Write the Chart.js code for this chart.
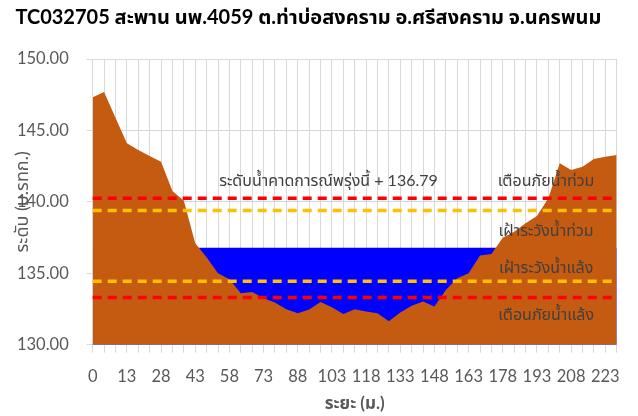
<!DOCTYPE html>
<html>
<head>
<meta charset="utf-8">
<script src="https://cdn.jsdelivr.net/npm/chart.js@4/dist/chart.umd.min.js"></script>
<style>
  html, body { margin: 0; padding: 0; background: #fff; }
  #wrap { width: 638px; height: 416px; }
</style>
</head>
<body>
<div id="wrap"><canvas id="xs-chart" width="638" height="416"></canvas></div>
<script>
// Cross-section TC032705 — ground profile, water level and alarm levels

const distances = ['0', '3', '8', '13', '18', '23', '28', '33', '38', '43', '48', '53', '58', '63', '68', '73',
    '78', '83', '88', '93', '98', '103', '108', '113', '118', '123', '128', '133', '138', '143', '148', '153',
    '158', '163', '168', '173', '178', '183', '188', '193', '198', '203', '208', '213', '218', '223', '228'];

const groundLevel = [147.32, 147.69, 145.89, 144.10, 143.63, 143.21, 142.81, 140.76, 140.08, 137.10,
    136.12, 135.00, 134.58, 133.60, 133.69, 133.25, 132.96, 132.48, 132.20, 132.46, 132.99, 132.62,
    132.15, 132.48, 132.32, 132.20, 131.64, 132.25, 132.72, 133.02, 132.67, 133.83, 134.65, 135.00,
    136.24, 136.35, 137.49, 137.91, 138.50, 139.01, 140.25, 142.70, 142.23, 142.46, 143.00, 143.16, 143.28];

const forecastLevel = 136.79;
const floodWarn    = 140.25;   // เตือนภัยน้ำท่วม
const floodWatch   = 139.40;   // เฝ้าระวังน้ำท่วม
const droughtWatch = 134.45;   // เฝ้าระวังน้ำแล้ง
const droughtWarn  = 133.30;   // เตือนภัยน้ำแล้ง

const yTicks = [130, 135, 140, 145, 150];

const flat = (v) => distances.map(() => v);
const FONT = "Lato, 'Noto Sans Thai', 'Noto Sans', sans-serif";
const GREY = '#595959';

// level labels on the right side (value on y axis)
const levelNotes = [
    { text: 'เตือนภัยน้ำท่วม',   y: 141.5 },
    { text: 'เฝ้าระวังน้ำท่วม',   y: 137.95 },
    { text: 'เฝ้าระวังน้ำแล้ง',    y: 135.35 },
    { text: 'เตือนภัยน้ำแล้ง',     y: 132.1 },
];

const notesPlugin = {
    id: 'notes',
    afterDatasetsDraw(chart) {
        const { ctx, scales: { x, y } } = chart;
        ctx.save();
        ctx.font = '16px ' + FONT;
        ctx.fillStyle = '#404040';
        ctx.textBaseline = 'middle';
        ctx.textAlign = 'center';
        const cx = x.getPixelForValue(39.8);
        levelNotes.forEach(n => ctx.fillText(n.text, cx, y.getPixelForValue(n.y)));
        ctx.textAlign = 'left';
        ctx.fillText('ระดับน้ำคาดการณ์พรุ่งนี้ + ' + forecastLevel.toFixed(2),
            x.getPixelForValue(11.1), y.getPixelForValue(141.45));
        ctx.restore();
    }
};

const dashed = (label, value, color) => ({
    label,
    data: flat(value),
    borderColor: color,
    borderWidth: 3.5,
    borderDash: [9, 6],
    pointRadius: 0,
    fill: false,
    order: 0,
});

new Chart(document.getElementById('xs-chart'), {
    type: 'line',
    data: {
        labels: distances,
        datasets: [
            dashed('เตือนภัยน้ำท่วม', floodWarn, '#FF0000'),
            dashed('เฝ้าระวังน้ำท่วม', floodWatch, '#FFC000'),
            dashed('เฝ้าระวังน้ำแล้ง', droughtWatch, '#FFC000'),
            dashed('เตือนภัยน้ำแล้ง', droughtWarn, '#FF0000'),
            {
                label: 'ระดับตลิ่ง',
                data: groundLevel,
                borderWidth: 0,
                borderColor: 'rgba(0,0,0,0)',
                backgroundColor: '#C55A11',
                pointRadius: 0,
                tension: 0,
                fill: 'start',
                order: 1,
            },
            {
                label: 'ระดับน้ำ',
                data: flat(forecastLevel),
                borderWidth: 0,
                borderColor: 'rgba(0,0,0,0)',
                backgroundColor: '#0000FF',
                pointRadius: 0,
                fill: 'start',
                order: 2,
            },
        ]
    },
    options: {
        responsive: false,
        animation: false,
        devicePixelRatio: 1,
        layout: { padding: { top: 0, left: 0, right: 21.3, bottom: 0 } },
        plugins: {
            legend: { display: false },
            tooltip: { enabled: false },
            title: {
                display: true,
                text: 'TC032705 สะพาน นพ.4059 ต.ท่าบ่อสงคราม อ.ศรีสงคราม จ.นครพนม',
                color: '#000',
                font: { family: FONT, size: 20, weight: 'bold', lineHeight: 1.2 },
                padding: { top: 6, bottom: 29 },
            },
        },
        scales: {
            x: {
                type: 'category',
                grid: { color: '#D9D9D9', lineWidth: 1, tickLength: 8, drawTicks: true, tickColor: '#D9D9D9' },
                border: { color: '#BFBFBF', width: 1 },
                ticks: {
                    autoSkip: false,
                    maxRotation: 0,
                    color: GREY,
                    padding: 14,
                    font: { family: FONT, size: 16.5 },
                    callback: (v, i) => (i % 3 === 0 ? distances[i] : ''),
                },
                title: {
                    display: true,
                    text: 'ระยะ (ม.)',
                    color: GREY,
                    font: { family: FONT, size: 17, weight: 'bold', lineHeight: 1.2 },
                    padding: { top: 0, bottom: 2 },
                },
                afterFit: (s) => { s.height = 71.3; },
            },
            y: {
                min: 130,
                max: 150,
                afterBuildTicks: (s) => { s.ticks = yTicks.map(v => ({ value: v })); },
                grid: { color: '#D9D9D9', lineWidth: 1, tickLength: 6, tickColor: '#D9D9D9' },
                border: { display: false },
                ticks: {
                    color: GREY,
                    padding: 18,
                    font: { family: FONT, size: 16.5 },
                    callback: (v) => Number(v).toFixed(2),
                },
                title: {
                    display: true,
                    text: 'ระดับ (ม.รทก.)',
                    color: GREY,
                    font: { family: FONT, size: 18, lineHeight: 1.2 },
                    padding: { top: 11, bottom: 0 },
                },
                afterFit: (s) => { s.width = 92.7; },
            },
        },
    },
    plugins: [notesPlugin],
});
</script>
</body>
</html>
